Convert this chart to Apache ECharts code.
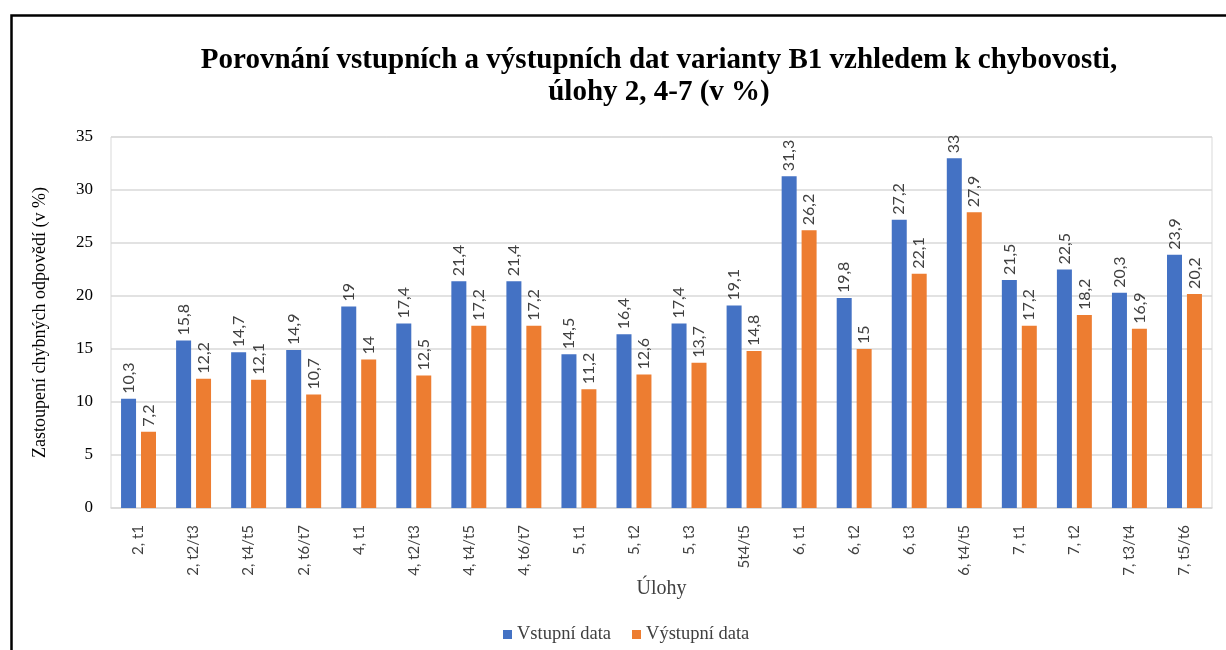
<!DOCTYPE html>
<html>
<head>
<meta charset="utf-8">
<script src="https://cdn.jsdelivr.net/npm/echarts@6/dist/echarts.min.js"></script>
<style>
html,body{margin:0;padding:0;background:#fff;}
#c{width:1226px;height:650px;}
</style>
</head>
<body>
<div id="c"></div>
<script>
const categories = ["2, t1","2, t2/t3","2, t4/t5","2, t6/t7","4, t1","4, t2/t3","4, t4/t5","4, t6/t7","5, t1","5, t2","5, t3","5t4/t5","6, t1","6, t2","6, t3","6, t4/t5","7, t1","7, t2","7, t3/t4","7, t5/t6"];
const vstupni = [10.3,15.8,14.7,14.9,19,17.4,21.4,21.4,14.5,16.4,17.4,19.1,31.3,19.8,27.2,33,21.5,22.5,20.3,23.9];
const vystupni = [7.2,12.2,12.1,10.7,14,12.5,17.2,17.2,11.2,12.6,13.7,14.8,26.2,15,22.1,27.9,17.2,18.2,16.9,20.2];
const seriesNames = ["Vstupní data","Výstupní data"];
const titleText = "Porovnání vstupních a výstupních dat varianty B1 vzhledem k chybovosti,\núlohy 2, 4-7 (v %)";
const yName = "Zastoupení chybných odpovědí (v %)";
const xName = "Úlohy";

const serif = "'Liberation Serif', 'Times New Roman', serif";
const sans = "'Lato', 'Liberation Sans', sans-serif";

const labelCfg = {
  show: true, position: 'top', rotate: 90, align: 'left', verticalAlign: 'middle',
  distance: 5, fontFamily: sans, fontSize: 16, color: '#404040',
  formatter: p => String(p.value).replace('.', ',')
};

const chart = echarts.init(document.getElementById('c'), null, {renderer: 'canvas'});
chart.setOption({
  animation: false,
  backgroundColor: '#fff',
  graphic: [{
    type: 'rect', left: 9, top: 13, silent: true,
    shape: {x: 0, y: 0, width: 1400, height: 800},
    style: {fill: 'none', stroke: '#000', lineWidth: 2.5}
  }],
  title: {
    text: titleText, left: 654, textAlign: 'center', top: 40,
    textStyle: {fontFamily: serif, fontWeight: 'bold', fontSize: 29, lineHeight: 32, color: '#000'}
  },
  legend: {
    data: seriesNames, top: 620, left: 498, itemWidth: 9, itemHeight: 9, itemGap: 21,
    icon: 'rect',
    textStyle: {fontFamily: serif, fontSize: 18.5, color: '#404040'}
  },
  grid: {left: 111, right: 14, top: 137, bottom: 142, show: true, borderColor: '#d9d9d9', borderWidth: 1},
  xAxis: {
    type: 'category', data: categories,
    name: xName, nameLocation: 'middle', nameGap: 71, nameMoveOverlap: false,
    nameTextStyle: {fontFamily: serif, fontSize: 20, color: '#404040'},
    axisLine: {lineStyle: {color: '#d9d9d9', width: 1.5}},
    axisTick: {show: false},
    axisLabel: {rotate: 90, margin: 17, fontFamily: sans, fontSize: 15, color: '#404040', interval: 0}
  },
  yAxis: {
    type: 'value', min: 0, max: 35, interval: 5,
    name: yName, nameLocation: 'middle', nameGap: 62, nameRotate: 90,
    nameTextStyle: {fontFamily: serif, fontSize: 18, color: '#000'},
    axisLine: {show: false}, axisTick: {show: false},
    axisLabel: {margin: 18, fontFamily: serif, fontSize: 17, color: '#000'},
    splitLine: {lineStyle: {color: '#d9d9d9', width: 1.5}}
  },
  series: [
    {name: seriesNames[0], type: 'bar', data: vstupni, barWidth: 15, barGap: '33%',
     itemStyle: {color: '#4472C4'}, label: labelCfg},
    {name: seriesNames[1], type: 'bar', data: vystupni, barWidth: 15, barGap: '33%',
     itemStyle: {color: '#ED7D31'}, label: labelCfg}
  ]
});
</script>
</body>
</html>
